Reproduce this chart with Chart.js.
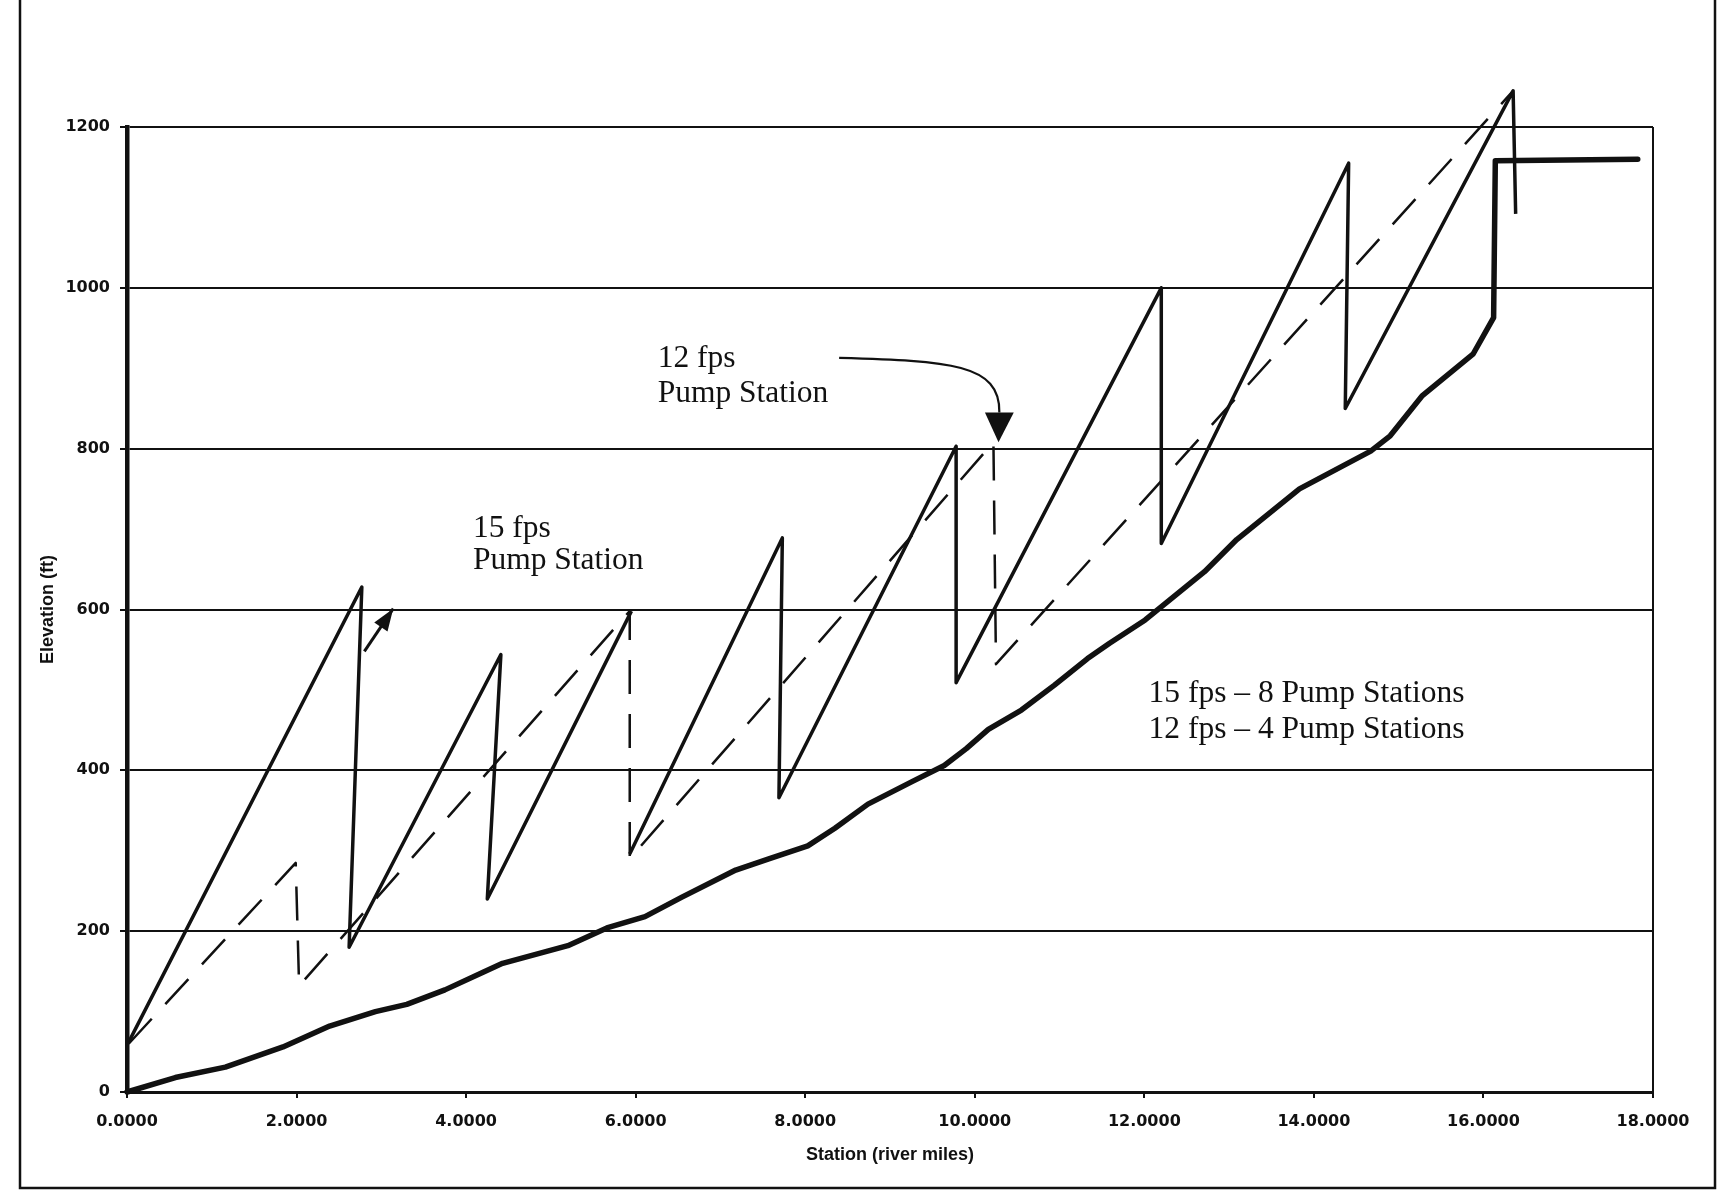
<!DOCTYPE html>
<html>
<head>
<meta charset="utf-8">
<script src="https://cdn.jsdelivr.net/npm/chart.js@4.4.1/dist/chart.umd.min.js"></script>
<style>
  html, body { margin: 0; padding: 0; background: #fff; }
  #wrap { width: 1724px; height: 1193px; position: relative; }
</style>
</head>
<body>
<div id="wrap"><canvas id="profile"></canvas></div>
<script>
// ground profile along the pipeline (station in river miles, elevation in ft)
const groundMiles = [0, 0.57, 1.16, 1.84, 2.39, 2.93, 3.3, 3.75, 4.2, 4.43, 5.2, 5.66, 6.11, 6.54, 7.18, 7.57, 8.03, 8.35, 8.74, 9.26, 9.64, 9.9, 10.16, 10.55, 10.94, 11.33, 11.59, 12.01, 12.71, 13.09, 13.83, 14.67, 14.9, 15.28, 15.88, 16.12, 16.14, 17.82];
const groundElev  = [0, 18, 31, 56, 82, 100, 109, 127, 149, 160, 182, 204, 218, 242, 276, 290, 306, 328, 358, 386, 406, 427, 451, 475, 506, 539, 558, 587, 647, 687, 750, 797, 816, 866, 918, 963, 1158, 1160];

// hydraulic grade line, 15 fps (8 pump stations); null = break in the line
const hgl15Miles = [0.02, 2.77, 2.62, 4.41, 4.25, 5.95, 5.94, 5.93, 7.73, 7.69, 9.78, 9.78, 12.2, 12.2, 14.41, 14.37, 16.35, 16.38];
const hgl15Elev  = [62, 628, 180, 544, 240, 598, null, 296, 689, 366, 803, 509, 1000, 682, 1155, 850, 1245, 1092];

// hydraulic grade line, 12 fps (4 pump stations)
const hgl12Miles = [0.02, 1.99, 2.03, 5.93, 5.93, 10.22, 10.25, 16.35];
const hgl12Elev  = [60, 285, 132, 598, 290, 808, 532, 1245];

const xTitle = 'Station (river miles)';
const yTitle = 'Elevation (ft)';

// text notes on the plot: text, miles, elevation of baseline
const noteText  = ['12 fps', 'Pump Station', '15 fps', 'Pump Station', '15 fps \u2013 8 Pump Stations', '12 fps \u2013 4 Pump Stations'];
const noteMiles = [6.26, 6.26, 4.08, 4.08, 12.05, 12.05];
const noteElev  = [901, 858, 690, 650, 485, 440];

const pts = (xs, ys) => xs.map((x, i) => ({ x, y: ys[i] }));

const ink = '#111';

const decorate = {
  id: 'decorate',
  beforeDraw(chart) {
    const { ctx, width, height } = chart;
    ctx.save();
    ctx.fillStyle = '#fff';
    ctx.fillRect(0, 0, width, height);
    // scanned page frame
    ctx.strokeStyle = ink;
    ctx.lineWidth = 2.5;
    ctx.beginPath();
    ctx.moveTo(20, 0);
    ctx.lineTo(20, 1188);
    ctx.lineTo(1715, 1188);
    ctx.lineTo(1715, 0);
    ctx.stroke();
    ctx.restore();
  },
  afterDatasetsDraw(chart) {
    const { ctx, chartArea: a, scales: { x, y } } = chart;
    const px = m => x.getPixelForValue(m);
    const py = e => y.getPixelForValue(e);
    ctx.save();
    // right edge of plot area
    ctx.strokeStyle = ink;
    ctx.lineWidth = 2;
    ctx.beginPath();
    ctx.moveTo(a.right, a.top);
    ctx.lineTo(a.right, a.bottom);
    ctx.stroke();

    ctx.fillStyle = ink;
    ctx.font = '31.5px "Liberation Serif", "Times New Roman", serif';
    ctx.textAlign = 'left';
    ctx.textBaseline = 'alphabetic';
    noteText.forEach((t, i) => ctx.fillText(t, px(noteMiles[i]), py(noteElev[i])));

    // curved arrow to the 12 fps pump station
    ctx.lineWidth = 2.2;
    ctx.beginPath();
    ctx.moveTo(px(8.4), py(913));
    ctx.bezierCurveTo(px(9.7), py(909), px(10.3), py(906), px(10.29), py(845));
    ctx.stroke();
    ctx.beginPath();
    ctx.moveTo(px(10.12), py(845));
    ctx.lineTo(px(10.46), py(845));
    ctx.lineTo(px(10.28), py(808));
    ctx.closePath();
    ctx.fill();

    // small arrow at the first 15 fps pump station
    const x0 = px(2.8), y0 = py(548), x1 = px(3.14), y1 = py(601);
    const ang = Math.atan2(y1 - y0, x1 - x0);
    ctx.lineWidth = 3;
    ctx.beginPath();
    ctx.moveTo(x0, y0);
    ctx.lineTo(x1, y1);
    ctx.stroke();
    ctx.beginPath();
    ctx.moveTo(x1, y1);
    ctx.lineTo(x1 - 22 * Math.cos(ang) + 8 * Math.sin(ang), y1 - 22 * Math.sin(ang) - 8 * Math.cos(ang));
    ctx.lineTo(x1 - 22 * Math.cos(ang) - 8 * Math.sin(ang), y1 - 22 * Math.sin(ang) + 8 * Math.cos(ang));
    ctx.closePath();
    ctx.fill();
    ctx.restore();
  }
};

const tickFont = { family: '"DejaVu Sans", sans-serif', weight: 'bold', size: 16 };
const titleFont = { family: '"Liberation Sans", Arial, sans-serif', weight: 'bold', size: 18 };

new Chart(document.getElementById('profile'), {
  type: 'line',
  data: {
    datasets: [
      {
        label: 'Ground',
        data: pts(groundMiles, groundElev),
        borderColor: ink,
        borderWidth: 5.5,
        borderCapStyle: 'round',
        borderJoinStyle: 'round',
        pointRadius: 0,
        tension: 0,
        fill: false,
        clip: false,
      },
      {
        label: '15 fps',
        data: pts(hgl15Miles, hgl15Elev),
        borderColor: ink,
        borderWidth: 3.5,
        borderJoinStyle: 'round',
        pointRadius: 0,
        tension: 0,
        spanGaps: false,
        fill: false,
        clip: false,
      },
      {
        label: '12 fps',
        data: pts(hgl12Miles, hgl12Elev),
        borderColor: ink,
        borderWidth: 2.5,
        borderDash: [34, 20],
        borderJoinStyle: 'round',
        pointRadius: 0,
        tension: 0,
        fill: false,
        clip: false,
      },
    ],
  },
  options: {
    responsive: true,
    maintainAspectRatio: false,
    animation: false,
    layout: { padding: { top: 127, right: 71, left: 0, bottom: 0 } },
    plugins: {
      legend: { display: false },
      tooltip: { enabled: false },
    },
    scales: {
      x: {
        type: 'linear',
        min: 0,
        max: 18,
        ticks: {
          stepSize: 2,
          callback: v => v.toFixed(4),
          font: tickFont,
          color: ink,
          padding: 14,
          maxRotation: 0,
        },
        grid: { drawOnChartArea: false, tickLength: 6, color: ink, lineWidth: 2 },
        border: { color: ink, width: 3 },
        title: { display: true, text: xTitle, font: titleFont, color: ink, padding: { top: 0, bottom: 27 } },
        afterFit: s => { s.height = 101; },
      },
      y: {
        min: 0,
        max: 1200,
        ticks: { stepSize: 200, callback: v => String(v), font: tickFont, color: ink, padding: 10 },
        grid: { color: ink, lineWidth: 2, tickLength: 7 },
        border: { color: ink, width: 4.5 },
        title: { display: true, text: yTitle, font: titleFont, color: ink, padding: { top: 37, bottom: 0 } },
        afterFit: s => { s.width = 127; },
      },
    },
  },
  plugins: [decorate],
});
</script>
</body>
</html>
